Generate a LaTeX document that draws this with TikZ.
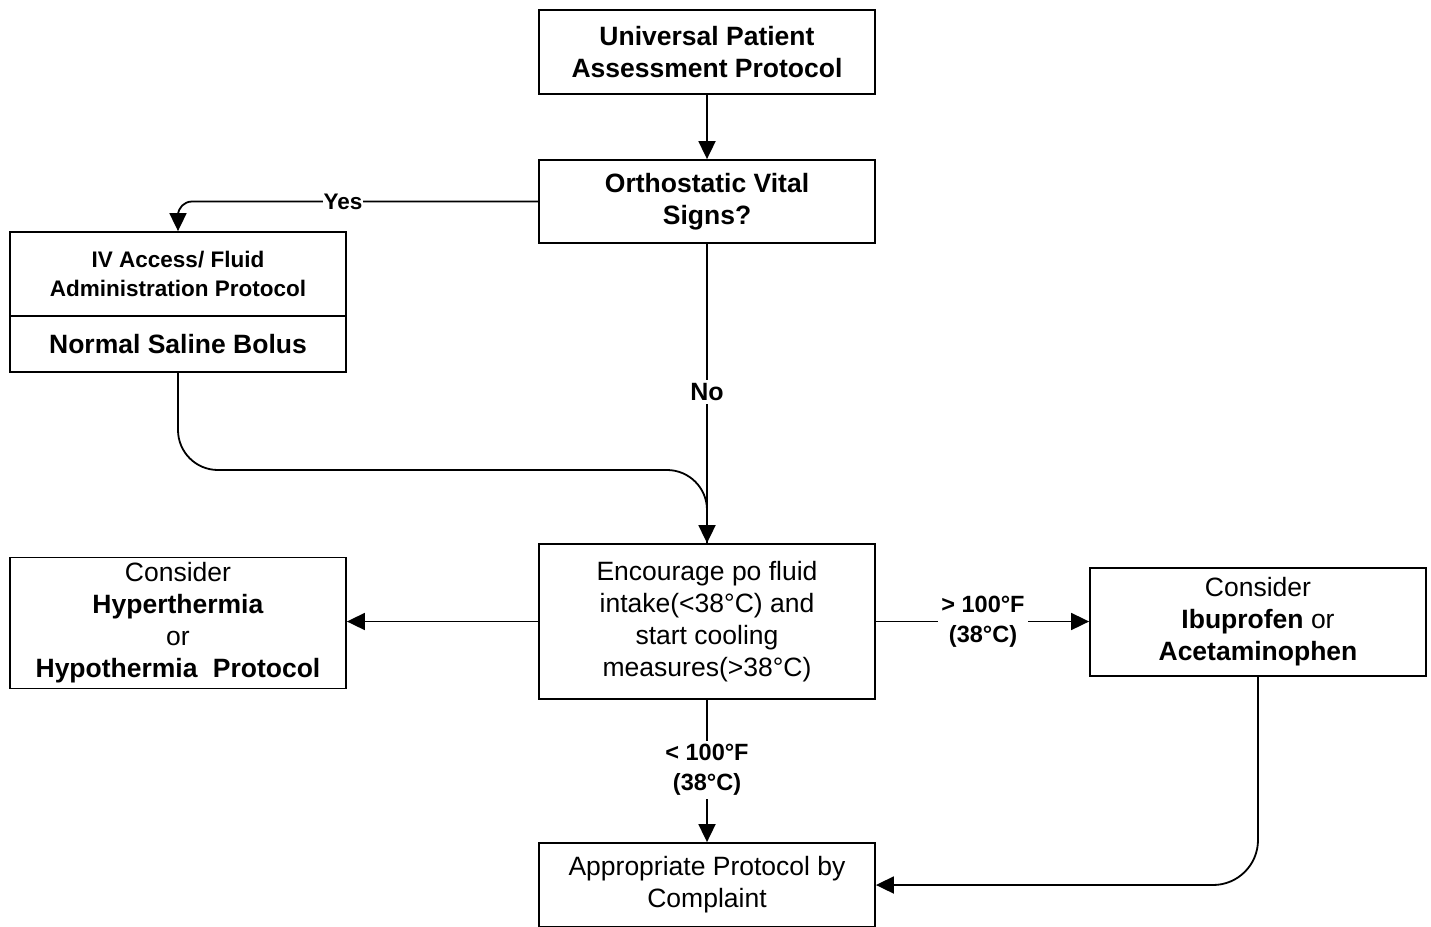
\documentclass[tikz,border=0pt]{standalone}
\usepackage{fontspec}
\setmainfont{Liberation Sans}
\usetikzlibrary{arrows.meta}
\begin{document}
\begin{tikzpicture}[x=1pt,y=-1pt,
  box/.style={draw, line width=1.8pt, minimum width=336pt, align=center, inner sep=0pt,
    font=\fontsize{26.5}{32}\selectfont},
  boxb/.style={box, font=\fontsize{26.5}{32}\selectfont\bfseries},
  conn/.style={line width=1.8pt, -{Triangle[length=18pt,width=17pt]}},
  wire/.style={line width=1.8pt},
  lbl/.style={fill=white, inner sep=3pt, align=center, font=\fontsize{23.5}{30}\selectfont\bfseries}]
\useasboundingbox (0,0) rectangle (1431,926);

% boxes
\node[boxb, minimum height=84pt] (U) at (707,52) {Universal Patient\\Assessment Protocol};
\node[boxb, minimum height=83pt] (O) at (707,201.5) {Orthostatic Vital\\Signs?};
\node[box, minimum height=84pt, font=\fontsize{22.5}{29}\selectfont\bfseries] (IVa) at (178,274) {IV Access/ Fluid\\Administration Protocol};
\node[boxb, minimum height=56pt] (IVb) at (178,344) {Normal Saline Bolus};
\node[box, minimum height=155pt] (E) at (707,621.5) {Encourage po fluid\\intake(<38°C) and\\start cooling\\measures(>38°C)};
\node[box, minimum height=131pt] (H) at (178,623) {Consider\\\textbf{Hyperthermia}\\or\\\textbf{Hypothermia\hspace{0.3em} Protocol}};
\node[box, minimum height=108pt] (I) at (1258,622) {Consider\\\textbf{Ibuprofen} or\\\textbf{Acetaminophen}};
\node[box, minimum height=84pt] (A) at (707,885) {Appropriate Protocol by\\Complaint};

% routing points
\coordinate (j1) at (178,470);
\coordinate (j2) at (707,470);
\coordinate (k1) at (1258,885);

% connectors
\draw[conn] (U.south) -- (O.north);
\draw[conn, rounded corners=14pt] (O.west) -- (IVa.north |- O.west) -- (IVa.north);
\node[lbl, inner sep=1pt, font=\fontsize{22.5}{28}\selectfont\bfseries] (yes) at (343,201.5) {Yes};
\draw[wire, rounded corners=40pt] (IVb.south) -- (j1) -- (j2) -- (E.north);
\draw[conn] (O.south) -- (E.north);
\node[lbl] (no) at (707,392) {\fontsize{25}{30}\selectfont No};
\draw[conn] (E.west) -- (E.west -| H.east);
\draw[conn] (E.east) -- (E.east -| I.west);
\node[lbl] (hot) at (983,621.5) {> 100°F\\(38°C)};
\draw[conn] (E.south) -- (A.north);
\node[lbl] (cool) at (707,770) {< 100°F\\(38°C)};
\draw[conn, rounded corners=45pt] (I.south) -- (k1) -- (A.east);
\end{tikzpicture}
\end{document}
